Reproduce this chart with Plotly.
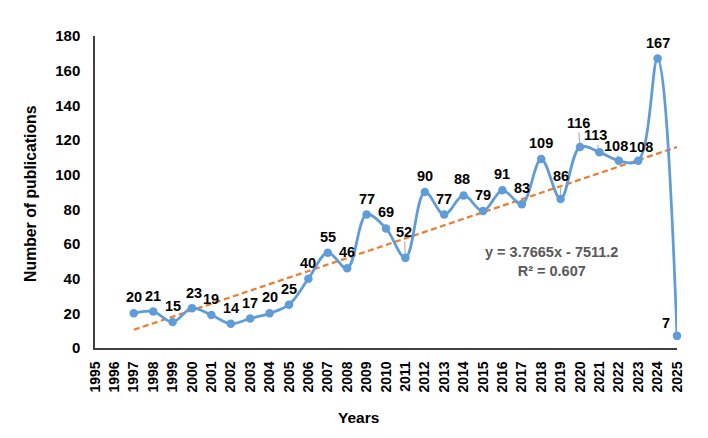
import plotly.graph_objects as go

# publications per year
years = list(range(1997, 2026))
pubs = [20, 21, 15, 23, 19, 14, 17, 20, 25, 40, 55, 46, 77, 69, 52,
        90, 77, 88, 79, 91, 83, 109, 86, 116, 113, 108, 108, 167, 7]
tick_years = list(range(1995, 2026))
y_ticks = list(range(0, 181, 20))

# linear trend shown on the chart
trend_slope = 3.7665
trend_intercept = -7511.2
trend_r2 = 0.607

BLUE = '#5F9CD8'
ORANGE = '#ED7D31'
FONT = 'Liberation Sans, Arial, sans-serif'

fig = go.Figure()

trend_x = [years[0], years[-1]]
trend_y = [trend_slope * x + trend_intercept for x in trend_x]
fig.add_trace(go.Scatter(x=trend_x, y=trend_y, mode='lines',
                         line=dict(color=ORANGE, width=2.25, dash='6px,3.5px'),
                         hoverinfo='skip', showlegend=False))

fig.add_trace(go.Scatter(x=years, y=pubs, mode='lines+markers',
                         line=dict(color=BLUE, width=2.75, shape='spline', smoothing=1),
                         marker=dict(color=BLUE, size=8.5),
                         cliponaxis=False, showlegend=False))

# label tweaks (pixels) - some labels sit off the point with a leader line
shift = {2000: (2, 15), 2014: (-2, 16), 2023: (3, 14), 2025: (-11, 13)}
leader = {2011: (-1, -26), 2019: (0, -23), 2020: (-2, -24), 2021: (-4, -17), 2022: (-3, -15)}

for yr, v in zip(years, pubs):
    if yr in leader:
        ax, ay = leader[yr]
        fig.add_annotation(x=yr, y=v, text=f'<b>{v}</b>', showarrow=True,
                           ax=ax, ay=ay, arrowhead=0, arrowwidth=1,
                           arrowcolor='#A6A6A6', standoff=4,
                           font=dict(family=FONT, size=14.5, color='black'))
    else:
        dx, dy = shift.get(yr, (0, 16))
        fig.add_annotation(x=yr, y=v, text=f'<b>{v}</b>', showarrow=False,
                           xshift=dx, yshift=dy,
                           font=dict(family=FONT, size=14.5, color='black'))

fig.add_annotation(x=2018.55, y=50,
                   text=f'<b>y = {trend_slope}x - {abs(trend_intercept)}<br>R² = {trend_r2}</b>',
                   showarrow=False, align='center',
                   font=dict(family=FONT, size=14.5, color='#595959'))

# axis titles placed by hand, the way the original chart has them
fig.add_annotation(xref='paper', yref='paper', x=0.4536, y=-0.224,
                   text='<b>Years</b>', showarrow=False, yanchor='middle',
                   font=dict(family=FONT, size=15.5, color='black'))
fig.add_annotation(xref='paper', yref='paper', x=-0.11, y=0.497,
                   text='<b>Number of publications</b>', showarrow=False,
                   textangle=-90, xanchor='center', yanchor='middle',
                   font=dict(family=FONT, size=15.8, color='black'))

fig.update_layout(
    width=708, height=438,
    margin=dict(l=87, r=39, t=28, b=98),
    paper_bgcolor='white', plot_bgcolor='white',
    font=dict(family=FONT, color='black'),
    xaxis=dict(range=[1995, 2025], tickvals=tick_years,
               ticktext=[f'<b>{t}</b>' for t in tick_years], tickangle=-90,
               tickfont=dict(size=14), showgrid=False, zeroline=False,
               showline=True, linecolor='#404040', linewidth=1.5,
               ticklabelstandoff=6, automargin=False),
    yaxis=dict(range=[0, 180], tickvals=y_ticks,
               ticktext=[f'<b>{t}</b>' for t in y_ticks],
               tickfont=dict(size=15), showgrid=False, zeroline=False,
               showline=True, linecolor='#404040', linewidth=1.5,
               ticklabelstandoff=10, automargin=False),
)

fig.write_html('out.html')
